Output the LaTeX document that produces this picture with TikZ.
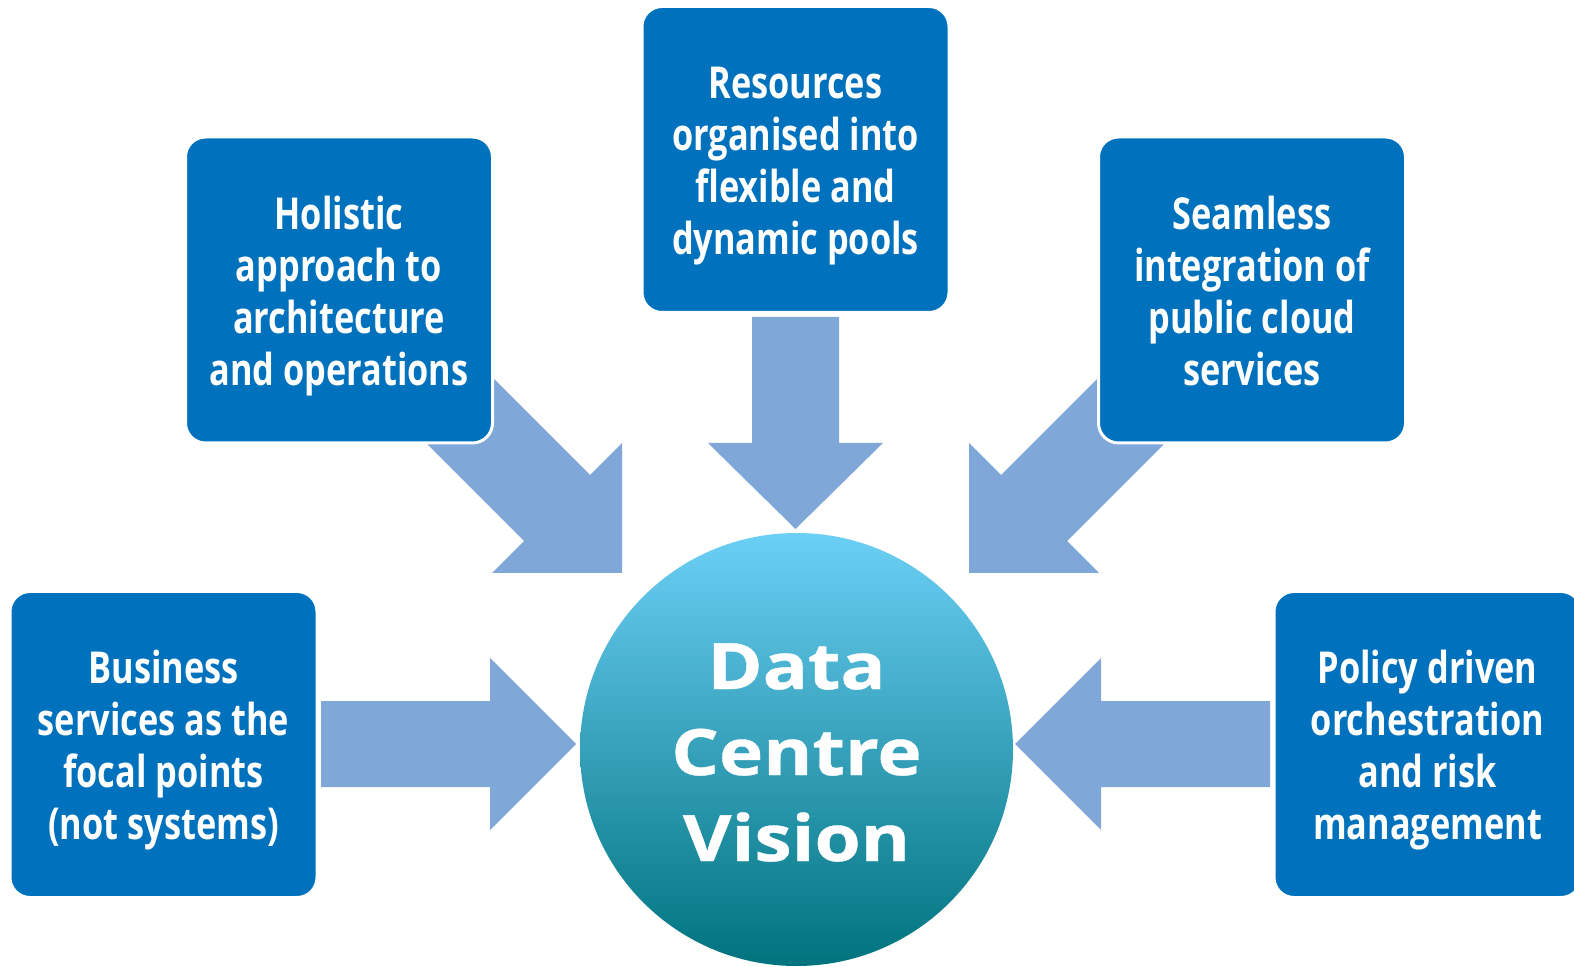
\documentclass[tikz,border=0pt]{standalone}
\usepackage{fontspec}
\setmainfont{Open Sans}
\newfontfamily\condfont{Open Sans}[FakeStretch=0.78]
\newfontfamily\widefont{Open Sans}[FakeStretch=1.17, FakeBold=0.6]
\definecolor{boxblue}{HTML}{0071BC}
\definecolor{arrowblue}{HTML}{7FA7D8}
\definecolor{circtop}{HTML}{6CCFF6}
\definecolor{circbot}{HTML}{00737E}
\tikzset{
  infobox/.style={rectangle, rounded corners=10pt, fill=boxblue, draw=white,
    line width=1.5pt, minimum width=153.5pt, minimum height=153pt},
  infotext/.style={text=white, align=center, inner sep=0pt,
    font=\condfont\bfseries\fontsize{22}{26}\selectfont},
  blockarrow/.style={fill=arrowblue},
  vision/.style={circle, minimum size=216.5pt, inner sep=0pt, top color=circtop,
    bottom color=circbot},
  visiontext/.style={text=white, align=center, inner sep=0pt,
    font=\widefont\bfseries\fontsize{32}{43}\selectfont}
}
\begin{document}
\begin{tikzpicture}[x=0.5pt, y=-0.5pt]
\useasboundingbox (0,0) rectangle (1574,967);
\clip (0,0) rectangle (1574,967);
% block arrows
\fill[blockarrow] (752,317) -- (839,317) -- (839,443) -- (883,443) -- (795.5,529) -- (708,443) -- (752,443) -- cycle;
\fill[blockarrow] (321,701) -- (490,701) -- (490,658) -- (576,744) -- (490,830) -- (490,787) -- (321,787) -- cycle;
\fill[blockarrow] (1270,701) -- (1101,701) -- (1101,658) -- (1015,744) -- (1101,830) -- (1101,787) -- (1270,787) -- cycle;
\fill[blockarrow] (364,381) -- (524,541) -- (492,573) -- (622,573) -- (622,443) -- (590,475) -- (430,315) -- cycle;
\fill[blockarrow] (1227,381) -- (1067,541) -- (1099,573) -- (969,573) -- (969,443) -- (1001,475) -- (1161,315) -- cycle;
% boxes
\node[infobox] (top) at (795.5,159.5) {};
\node[infobox] (tl) at (339,290) {};
\node[infobox] (tr) at (1252,290) {};
\node[infobox] (bl) at (163.5,744.5) {};
\node[infobox] (br) at (1427.5,744.5) {};
\node[infotext] (toptxt) at ([yshift=-3.4pt]top.center) {\strut Resources\\organised into\\flexible and\\dynamic pools\strut};
\node[infotext] (tltxt) at ([yshift=-3.4pt]tl.center) {\strut Holistic\\approach to\\architecture\\and operations\strut};
\node[infotext] (trtxt) at ([yshift=-3.4pt]tr.center) {\strut Seamless\\integration of\\public cloud\\services\strut};
\node[infotext] (bltxt) at ([yshift=-3.4pt]bl.center) {\strut Business\\services as the\\focal points\\(not systems)\strut};
\node[infotext] (brtxt) at ([yshift=-3.4pt]br.center) {\strut Policy driven\\orchestration\\and risk\\management\strut};
% centre
\node[vision] (dcv) at (796.5,749.5) {};
\node[visiontext] (dcvtxt) at ([yshift=-1.5pt]dcv.center) {Data\\Centre\\Vision};
\end{tikzpicture}
\end{document}
